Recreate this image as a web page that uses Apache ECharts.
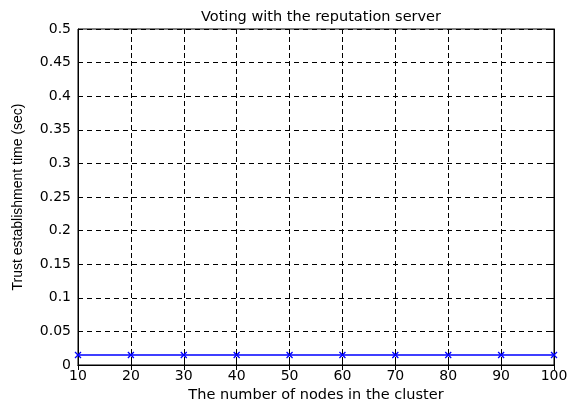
<!DOCTYPE html>
<html>
<head>
<meta charset="utf-8">
<script src="https://cdn.jsdelivr.net/npm/echarts@6/dist/echarts.min.js"></script>
<style>
  html, body { margin: 0; padding: 0; background: #fff; }
  #chart { width: 573px; height: 408px; }
</style>
</head>
<body>
<div id="chart"></div>
<script>
// Cluster sizes and measured trust establishment time (seconds)
const nodeCounts = [10, 20, 30, 40, 50, 60, 70, 80, 90, 100];
const trustTimes = [0.015, 0.015, 0.015, 0.015, 0.015, 0.015, 0.015, 0.015, 0.015, 0.015];

const titleText = 'Voting with the reputation server';
const xAxisName = 'The number of nodes in the cluster';
const yAxisName = 'Trust establishment time (sec)';

const chart = echarts.init(document.getElementById('chart'), null, { renderer: 'canvas' });

const tickFont = { fontFamily: 'DejaVu Sans', fontSize: 14, color: '#000' };
const boxAxis = { lineStyle: { color: '#000', width: 1 } };

chart.setOption({
  animation: false,
  backgroundColor: '#fff',
  title: {
    text: titleText,
    left: 316,
    textAlign: 'center',
    top: 5,
    textStyle: { fontFamily: 'DejaVu Sans', fontSize: 14.5, fontWeight: 'normal', color: '#000' }
  },
  grid: {
    left: 78, right: 19, top: 29, bottom: 37,
    show: true, borderColor: '#000', borderWidth: 1, backgroundColor: '#fff'
  },
  xAxis: [
    {
      type: 'value', min: 10, max: 100, interval: 10,
      name: xAxisName, nameLocation: 'middle', nameGap: 23,
      nameTextStyle: { fontFamily: 'DejaVu Sans', fontSize: 14.5, color: '#000' },
      axisLine: boxAxis,
      axisTick: { inside: true, length: 5, lineStyle: { color: '#000' } },
      axisLabel: Object.assign({ margin: 4 }, tickFont),
      splitLine: { show: true, lineStyle: { color: '#000', width: 1, type: [5, 3] } }
    },
    {
      type: 'value', min: 10, max: 100, interval: 10, position: 'top',
      axisLine: boxAxis,
      axisTick: { inside: true, length: 5, lineStyle: { color: '#000' } },
      axisLabel: { show: false },
      splitLine: { show: false }
    }
  ],
  yAxis: [
    {
      type: 'value', min: 0, max: 0.5, interval: 0.05,
      name: yAxisName, nameLocation: 'middle', nameGap: 53,
      nameTextStyle: { fontFamily: 'Liberation Sans', fontSize: 14, color: '#000' },
      axisLine: boxAxis,
      axisTick: { inside: true, length: 5, lineStyle: { color: '#000' } },
      axisLabel: Object.assign({ margin: 7, formatter: v => String(+v.toFixed(2)) }, tickFont),
      splitLine: { show: true, lineStyle: { color: '#000', width: 1, type: [5, 4] } }
    },
    {
      type: 'value', min: 0, max: 0.5, interval: 0.05, position: 'right',
      axisLine: boxAxis,
      axisTick: { inside: true, length: 5, lineStyle: { color: '#000' } },
      axisLabel: { show: false },
      splitLine: { show: false }
    }
  ],
  series: [
    {
      type: 'line',
      data: nodeCounts.map((n, i) => [n, trustTimes[i]]),
      symbol: 'path://M0 0L10 10M10 0L0 10',
      symbolSize: 6,
      showSymbol: true,
      lineStyle: { color: '#0000ff', width: 1.5 },
      itemStyle: { color: 'none', borderColor: '#0000ff', borderWidth: 1.3 },
      z: 5
    }
  ]
});
</script>
</body>
</html>
